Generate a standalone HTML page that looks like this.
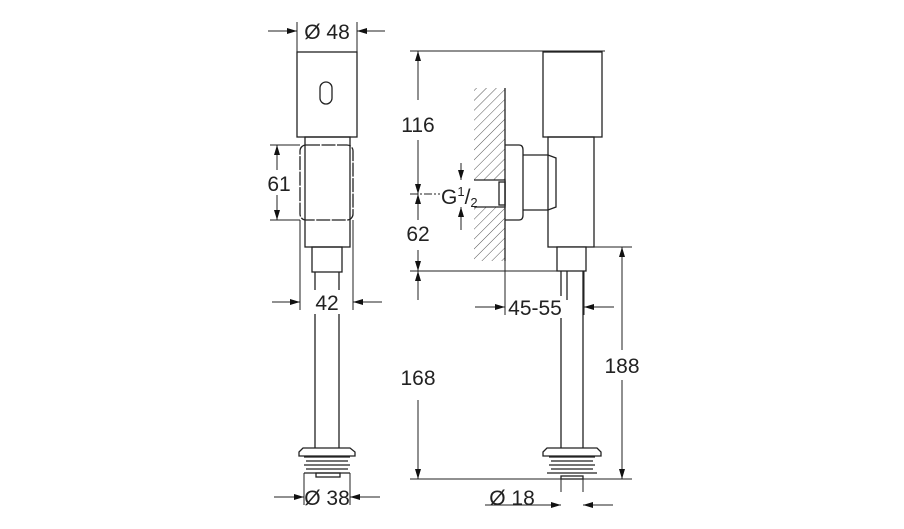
<!DOCTYPE html>
<html><head><style>body{margin:0;background:#fff}svg{display:block}text{font-family:"Liberation Sans",sans-serif;font-size:21px;fill:#222}</style></head>
<body>
<svg width="904" height="529" viewBox="0 0 904 529">
<defs>
<marker id="a" viewBox="0 0 10 6" refX="10" refY="3" markerWidth="15" markerHeight="6" orient="auto" markerUnits="userSpaceOnUse"><path d="M0,0L10,3L0,6Z" fill="#111"/></marker>
<pattern id="h" width="7" height="7" patternUnits="userSpaceOnUse" patternTransform="rotate(45)"><line x1="0" y1="0" x2="0" y2="7" stroke="#555" stroke-width="1"/></pattern>
</defs>
<g stroke="#222" stroke-width="1.3" fill="none">
<rect x="297" y="52" width="60" height="85"/>
<rect x="320" y="82" width="12" height="22" rx="6"/>
<rect x="305" y="137" width="45" height="110"/>
<rect x="300" y="145" width="53" height="75" rx="6" stroke-dasharray="14,1.5"/>
<rect x="312" y="247" width="30" height="25"/>
<line x1="315" y1="272" x2="315" y2="448"/><line x1="339" y1="272" x2="339" y2="448"/>
<path d="M299,452 L303,448 L350,448 L355,452 L355,456 L299,456Z"/>
<path d="M304,457h46M306,461h42M304,465h46M306,469h42M304,473h46" />
<rect x="316" y="473" width="24" height="4"/>
<g stroke-width="1">
<line x1="297" y1="22" x2="297" y2="52"/><line x1="357" y1="22" x2="357" y2="52"/>
<line x1="268" y1="31" x2="297" y2="31" marker-end="url(#a)"/><line x1="385" y1="31" x2="357" y2="31" marker-end="url(#a)"/>
<line x1="270" y1="145" x2="300" y2="145"/><line x1="270" y1="220" x2="300" y2="220"/>
<line x1="277" y1="170" x2="277" y2="145" marker-end="url(#a)"/><line x1="277" y1="195" x2="277" y2="220" marker-end="url(#a)"/>
<line x1="300" y1="220" x2="300" y2="310"/><line x1="353" y1="220" x2="353" y2="310"/>
<line x1="272" y1="302" x2="300" y2="302" marker-end="url(#a)"/><line x1="382" y1="302" x2="353" y2="302" marker-end="url(#a)"/>
<line x1="304" y1="473" x2="304" y2="505"/><line x1="350" y1="473" x2="350" y2="505"/>
<line x1="274" y1="497" x2="304" y2="497" marker-end="url(#a)"/><line x1="380" y1="497" x2="350" y2="497" marker-end="url(#a)"/>
</g>
<rect x="474" y="88" width="31" height="173" fill="url(#h)" stroke="none"/>
<line x1="505" y1="88" x2="505" y2="261"/>
<rect x="474" y="180" width="31" height="27" fill="#fff" stroke="none"/>
<path d="M474,180H505V207H474"/>
<rect x="499" y="182" width="6" height="23"/>
<rect x="543" y="52" width="59" height="85"/>
<rect x="548" y="137" width="46" height="110"/>
<path d="M505,145 H519 Q523,145 523,150 V215 Q523,220 519,220 H505"/>
<path d="M523,155 H548 L556,158 V207 L548,210 H523"/>
<rect x="557" y="247" width="29" height="24" fill="#fff"/>
<line x1="561" y1="271" x2="561" y2="448"/><line x1="583" y1="271" x2="583" y2="448"/>
<line x1="567" y1="271" x2="567" y2="300"/>
<path d="M543,452 L547,448 L597,448 L601,452 L601,456 L543,456Z"/>
<path d="M549,457h46M551,461h42M549,465h46M551,469h42M547,473h50"/>
<rect x="561" y="476" width="22" height="3"/>
<g stroke-width="1">
<line x1="410" y1="51" x2="605" y2="51"/>
<line x1="410" y1="194" x2="470" y2="194" stroke-dasharray="8,2,2,2"/>
<line x1="410" y1="271" x2="557" y2="271"/>
<line x1="410" y1="479" x2="632" y2="479"/>
<line x1="594" y1="247" x2="632" y2="247"/>
<line x1="418" y1="100" x2="418" y2="51" marker-end="url(#a)"/>
<line x1="418" y1="140" x2="418" y2="194" marker-end="url(#a)"/>
<line x1="418" y1="220" x2="418" y2="194" marker-end="url(#a)"/>
<line x1="418" y1="250" x2="418" y2="271" marker-end="url(#a)"/>
<line x1="418" y1="300" x2="418" y2="271" marker-end="url(#a)"/>
<line x1="418" y1="400" x2="418" y2="479" marker-end="url(#a)"/>
<line x1="622" y1="350" x2="622" y2="247" marker-end="url(#a)"/>
<line x1="622" y1="380" x2="622" y2="479" marker-end="url(#a)"/>
<line x1="461" y1="163" x2="461" y2="180" marker-end="url(#a)"/>
<line x1="461" y1="230" x2="461" y2="207" marker-end="url(#a)"/>
<line x1="505" y1="261" x2="505" y2="315"/><line x1="584" y1="271" x2="584" y2="315"/>
<line x1="475" y1="307" x2="505" y2="307" marker-end="url(#a)"/><line x1="614" y1="307" x2="584" y2="307" marker-end="url(#a)"/>
<line x1="561" y1="479" x2="561" y2="492"/><line x1="583" y1="479" x2="583" y2="492"/>
<line x1="485" y1="505" x2="561" y2="505" marker-end="url(#a)"/><line x1="613" y1="505" x2="583" y2="505" marker-end="url(#a)"/>
</g>
</g>
<rect x="301" y="20" width="52" height="24" fill="#fff"/><text x="327" y="39" text-anchor="middle">Ø 48</text>
<rect x="266" y="172" width="24" height="22" fill="#fff"/><text x="279" y="191" text-anchor="middle">61</text>
<rect x="313" y="290" width="28" height="24" fill="#fff"/><text x="327" y="310" text-anchor="middle">42</text>
<rect x="306" y="486" width="42" height="22" fill="#fff"/><text x="327" y="505" text-anchor="middle">Ø 38</text>
<rect x="399" y="113" width="38" height="24" fill="#fff"/><text x="418" y="132" text-anchor="middle">116</text>
<rect x="404" y="222" width="28" height="24" fill="#fff"/><text x="418" y="241" text-anchor="middle">62</text>
<rect x="399" y="366" width="38" height="24" fill="#fff"/><text x="418" y="385" text-anchor="middle">168</text>
<rect x="603" y="354" width="38" height="24" fill="#fff"/><text x="622" y="373" text-anchor="middle">188</text>
<rect x="508" y="296" width="54" height="22" fill="#fff"/><text x="535" y="315" text-anchor="middle">45-55</text>
<text x="512" y="505" text-anchor="middle">Ø 18</text>
<rect x="440" y="182" width="36" height="24" fill="#fff"/>
<text x="441" y="204">G<tspan font-size="13" dy="-8">1</tspan><tspan dy="8">/</tspan><tspan font-size="13" dy="3">2</tspan></text>
</svg>
</body></html>
